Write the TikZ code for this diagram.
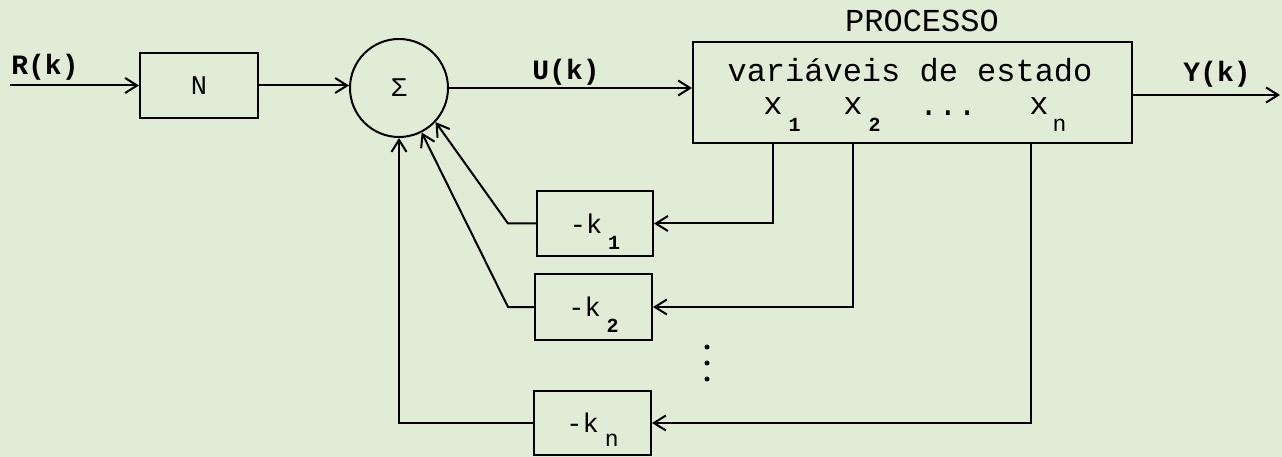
\documentclass[tikz,border=0pt]{standalone}
\usepackage{fontspec}
\setmainfont{Liberation Mono}
\usetikzlibrary{arrows.meta}
\definecolor{paper}{RGB}{224,236,214}
\newcommand\sbd[1]{{\fontsize{20}{20}\selectfont\bfseries #1}}
\newcommand\sbn[1]{{\fontsize{23}{23}\selectfont #1}}
\begin{document}
\begin{tikzpicture}[x=1pt,y=-1pt,
  line width=2pt,
  arr/.style={-{Straight Barb[length=12pt,width=15pt]}},
  blk/.style={draw,rectangle,inner sep=0pt},
  lbl/.style={anchor=base,inner sep=0pt,font=\fontsize{28}{30}\selectfont\bfseries},
  txt/.style={anchor=base,inner sep=0pt,font=\fontsize{32}{34}\selectfont},
  ktxt/.style={font=\fontsize{27}{29}\selectfont}]
\fill[paper] (0,0) rectangle (1282,457);
\useasboundingbox (0,0) rectangle (1282,457);

% blocks
\node[blk,minimum width=118pt,minimum height=65pt,ktxt] (N) at (199,85.5) {N};
\node[draw,circle,minimum size=98pt,inner sep=0pt,ktxt] (S) at (399,88) {Σ};
\node[blk,minimum width=439pt,minimum height=101pt] (P) at (912.5,92.5) {};
\node[blk,minimum width=116pt,minimum height=65pt,ktxt] (K1) at (595,223.5) {-k\hspace{6pt}\raisebox{-16pt}[0pt][0pt]{\sbd{1}}};
\node[blk,minimum width=117pt,minimum height=66pt,ktxt] (K2) at (593.5,307) {-k\hspace{6pt}\raisebox{-16pt}[0pt][0pt]{\sbd{2}}};
\node[blk,minimum width=117pt,minimum height=64pt,ktxt] (Kn) at (592.5,423) {-k\hspace{6pt}\raisebox{-14pt}[0pt][0pt]{\sbn{n}}};

% texts
\node[lbl] (Rk) at (45,75) {R(k)};
\node[lbl] (Uk) at (566,80) {U(k)};
\node[lbl] (Yk) at (1217,82) {Y(k)};
\node[txt] (proc) at (922,32) {PROCESSO};
\node[txt] (var) at (910,82) {variáveis de estado};
\node[txt] (x1) at (773,115) {x\rlap{\hspace{6pt}\raisebox{-17pt}{\sbd{1}}}};
\node[txt] (x2) at (853,115) {x\rlap{\hspace{6pt}\raisebox{-17pt}{\sbd{2}}}};
\node[txt] (xd) at (948,116) {...};
\node[txt] (xn) at (1039,115) {x\rlap{\hspace{4pt}\raisebox{-17pt}{\sbn{n}}}};

% dots
\fill (707,347) circle (2.5pt);
\fill (707,363) circle (2.5pt);
\fill (707,379) circle (2.5pt);

% connectors
\coordinate (rin) at (10,85.5);
\coordinate (yout) at (1280,95);
\coordinate (c1) at (773,0);
\coordinate (c2) at (853,0);
\coordinate (cn) at (1031,0);
\coordinate (b1) at (508,223.5);
\coordinate (b2) at (508,307);
\draw[arr] (rin) -- (N.west);
\draw[arr] (N.east) -- (N.east -| S.west);
\draw[arr] (S.east) -- (S.east -| P.west);
\draw[arr] (P.east |- yout) -- (yout);
\draw[arr] (P.south -| c1) |- (K1.east);
\draw[arr] (P.south -| c2) |- (K2.east);
\draw[arr] (P.south -| cn) |- (Kn.east);
\draw[arr] (K1.west) -- (b1) -- (S.-43);
\draw[arr] (K2.west) -- (b2) -- (S.-63);
\draw[arr] (Kn.west) -| (S.south);
\end{tikzpicture}
\end{document}
